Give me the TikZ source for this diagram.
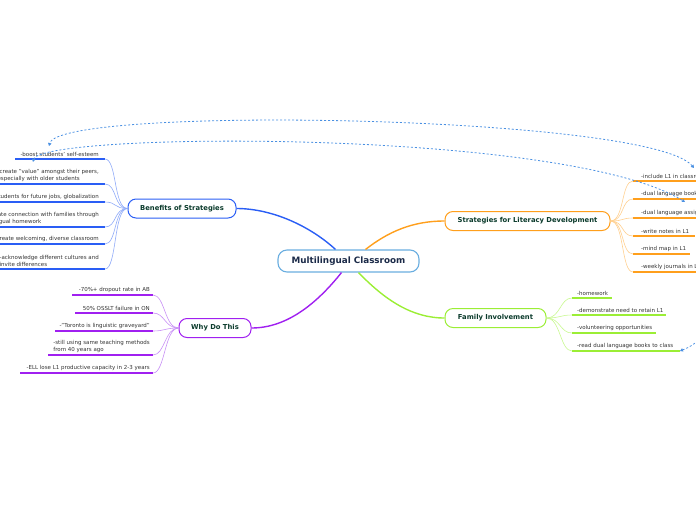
\documentclass[tikz,border=0pt]{standalone}
\usepackage{fontspec}
\setmainfont{DejaVu Sans}
\usetikzlibrary{arrows.meta}

\definecolor{mainedge}{HTML}{6AAEE0}
\definecolor{maintext}{HTML}{1B2A48}
\definecolor{subtext}{HTML}{0B3B2C}
\definecolor{leaftext}{HTML}{333333}
\definecolor{benblue}{HTML}{2A5EF5}
\definecolor{benthin}{HTML}{8FAAF8}
\definecolor{whypurple}{HTML}{A020F0}
\definecolor{whythin}{HTML}{C890F5}
\definecolor{strorange}{HTML}{FF9F1C}
\definecolor{strthin}{HTML}{FFD090}
\definecolor{famgreen}{HTML}{9BEE35}
\definecolor{famthin}{HTML}{C8F890}
\definecolor{relblue}{HTML}{4A90E2}

\tikzset{
  mainbox/.style={draw=mainedge, line width=1.1pt, rounded corners=9pt, fill=white,
    minimum width=141pt, minimum height=22pt, text=maintext,
    font=\fontsize{8.8}{10}\selectfont\bfseries},
  subbox/.style={line width=1pt, rounded corners=8pt, fill=white,
    minimum height=19pt, text=subtext, font=\fontsize{6.8}{8}\selectfont\bfseries},
  leaf/.style={inner sep=0pt, align=left, text=leaftext,
    font=\fontsize{5.5}{7}\selectfont},
  uline/.style={line width=1.6pt},
  thinlink/.style={line width=0.6pt},
  rel/.style={relblue, line width=0.8pt, dash pattern=on 2pt off 2pt,
    {Triangle[length=3pt,width=3.4pt]}-{Triangle[length=3pt,width=3.4pt]}}
}

\begin{document}
\begin{tikzpicture}[x=1pt,y=-1pt]
\useasboundingbox (0,0) rectangle (696,520);

% central topic and main branches
\node[mainbox] (mc) at (348.5,261) {Multilingual Classroom};
\node[subbox, draw=benblue, minimum width=108pt] (ben) at (182,208.5) {Benefits of Strategies};
\node[subbox, draw=whypurple, minimum width=72pt] (why) at (215,328) {Why Do This};
\node[subbox, draw=strorange, minimum width=165pt] (str) at (527.5,221) {Strategies for Literacy Development};
\node[subbox, draw=famgreen, minimum width=101pt] (fam) at (495.5,318) {Family Involvement};

\draw[benblue, line width=1.4pt] ([xshift=-13pt]mc.north) .. controls (310,226) and (272,208.5) .. (ben.east);
\draw[whypurple, line width=1.4pt] ([xshift=-7pt]mc.south) .. controls (318,302) and (288,328) .. (why.east);
\draw[strorange, line width=1.4pt] ([xshift=17pt]mc.north) .. controls (388,232) and (412,221) .. (str.west);
\draw[famgreen, line width=1.4pt] ([xshift=10pt]mc.south) .. controls (385,300) and (412,318) .. (fam.west);

% benefits of strategies
\node[leaf, anchor=south east] (b1) at (99,156.5) {-boost students' self-esteem};
\node[leaf, anchor=south east] (b2) at (99,181.5) {-create "value" amongst their peers,\\especially with older students};
\node[leaf, anchor=south east] (b3) at (99,199.5) {-prepare students for future jobs, globalization};
\node[leaf, anchor=south east] (b4) at (99,224.5) {-create connection with families through\\bilingual homework};
\node[leaf, anchor=south east] (b5) at (99,241.5) {-create welcoming, diverse classroom};
\node[leaf, anchor=south east] (b6) at (99,266.5) {-acknowledge different cultures and\\invite differences};
\coordinate (b1e) at (105,159);
\coordinate (b2e) at (105,184);
\coordinate (b3e) at (105,202);
\coordinate (b4e) at (105,227);
\coordinate (b5e) at (105,244);
\coordinate (b6e) at (105,269);
\draw[uline, benblue] (15,159) -- (b1e);
\draw[uline, benblue] (-5,184) -- (b2e);
\draw[uline, benblue] (-5,202) -- (b3e);
\draw[uline, benblue] (-5,227) -- (b4e);
\draw[uline, benblue] (-5,244) -- (b5e);
\draw[uline, benblue] (-5,269) -- (b6e);
\foreach \e in {b1e,b2e,b3e,b4e,b5e,b6e}
  \draw[thinlink, benthin] (ben.west) .. controls +(-14,0) and +(12,0) .. (\e);

% why do this
\node[leaf, anchor=south east] (w1) at (150,292.5) {-70\%+ dropout rate in AB};
\node[leaf, anchor=south east] (w2) at (150,310.5) {50\% OSSLT failure in ON};
\node[leaf, anchor=south east] (w3) at (150,328.5) {-"Toronto is linguistic graveyard"};
\node[leaf, anchor=south east] (w4) at (150,352.5) {-still using same teaching methods\\from 40 years ago};
\node[leaf, anchor=south east] (w5) at (150,370.5) {-ELL lose L1 productive capacity in 2-3 years};
\coordinate (w1e) at (153,295);
\coordinate (w2e) at (153,313);
\coordinate (w3e) at (153,331);
\coordinate (w4e) at (153,355);
\coordinate (w5e) at (153,373);
\draw[uline, whypurple] (72,295) -- (w1e);
\draw[uline, whypurple] (75,313) -- (w2e);
\draw[uline, whypurple] (55,331) -- (w3e);
\draw[uline, whypurple] (48,355) -- (w4e);
\draw[uline, whypurple] (20,373) -- (w5e);
\foreach \e in {w1e,w2e,w3e,w4e,w5e}
  \draw[thinlink, whythin] (why.west) .. controls +(-14,0) and +(12,0) .. (\e);

% strategies for literacy development
\node[leaf, anchor=south west] (s1) at (641,178.5) {-include L1 in classroom};
\node[leaf, anchor=south west] (s2) at (641,196.5) {-dual language books};
\node[leaf, anchor=south west] (s3) at (641,215.5) {-dual language assignments};
\node[leaf, anchor=south west] (s4) at (641,233.5) {-write notes in L1};
\node[leaf, anchor=south west] (s5) at (641,251.5) {-mind map in L1};
\node[leaf, anchor=south west] (s6) at (641,269.5) {-weekly journals in L1};
\coordinate (s1e) at (633,181);
\coordinate (s2e) at (633,199);
\coordinate (s3e) at (633,218);
\coordinate (s4e) at (633,236);
\coordinate (s5e) at (633,254);
\coordinate (s6e) at (633,272);
\draw[uline, strorange] (s1e) -- (705,181);
\draw[uline, strorange] (s2e) -- (705,199);
\draw[uline, strorange] (s3e) -- (705,218);
\draw[uline, strorange] (s4e) -- (695,236);
\draw[uline, strorange] (s5e) -- (690,254);
\draw[uline, strorange] (s6e) -- (705,272);
\foreach \e in {s1e,s2e,s3e,s4e,s5e,s6e}
  \draw[thinlink, strthin] (str.east) .. controls +(14,0) and +(-12,0) .. (\e);

% family involvement
\node[leaf, anchor=south west] (f1) at (577,295.5) {-homework};
\node[leaf, anchor=south west] (f2) at (577,312.5) {-demonstrate need to retain L1};
\node[leaf, anchor=south west] (f3) at (577,330.5) {-volunteering opportunities};
\node[leaf, anchor=south west] (f4) at (577,348.5) {-read dual language books to class};
\coordinate (f1e) at (572,298);
\coordinate (f2e) at (572,315);
\coordinate (f3e) at (572,333);
\coordinate (f4e) at (572,351);
\coordinate (f4r) at (680,351);
\draw[uline, famgreen] (f1e) -- (612,298);
\draw[uline, famgreen] (f2e) -- (666,315);
\draw[uline, famgreen] (f3e) -- (656,333);
\draw[uline, famgreen] (f4e) -- (f4r);
\foreach \e in {f1e,f2e,f3e,f4e}
  \draw[thinlink, famthin] (fam.east) .. controls +(14,0) and +(-12,0) .. (\e);

% relationship lines
\coordinate (ra) at (694,168);
\coordinate (rb1) at (49,146);
\coordinate (rb2) at (33,162);
\coordinate (rc) at (685,202);
\coordinate (rd) at (706,333);
\draw[rel] (ra) .. controls (650,115) and (60,105) .. (rb1);
\draw[rel] (rb2) .. controls (40,132) and (565,128) .. (rc);
\draw[rel, {Triangle[length=3pt,width=3.4pt]}-] (f4r) .. controls (692,346) .. (rd);
\end{tikzpicture}
\end{document}
